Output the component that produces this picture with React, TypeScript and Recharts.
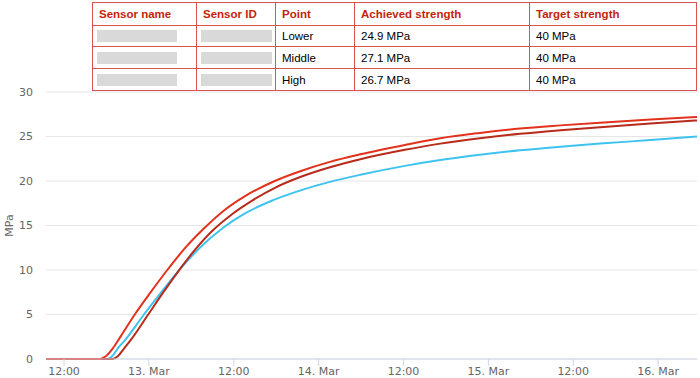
import React from "react";
import { LineChart, Line, XAxis, YAxis, CartesianGrid } from "recharts";

// Time in hours since 12 Mar 00:00
const middleHours = [9.45, 17.1, 17.9, 18.9, 19.9, 22.0, 24.2, 26.6, 29.1, 31.7, 34.8, 37.6, 41.8, 45.4, 49.6, 53.9, 60.2, 65.2, 70.8, 76.5, 82.2, 87.8, 94.9, 101.5];
const middleValues = [0, 0, 0.3, 1.2, 2.4, 5, 7.45, 10, 12.45, 14.6, 16.8, 18.3, 20.0, 21.1, 22.15, 23.0, 24.05, 24.8, 25.4, 25.9, 26.25, 26.55, 26.9, 27.2];

const highHours = [9.45, 18.9, 19.6, 20.5, 21.5, 23.9, 26.0, 28.1, 30.5, 32.9, 35.8, 38.6, 42.1, 45.4, 49.6, 53.9, 60.2, 65.2, 70.8, 76.5, 82.2, 87.8, 94.9, 101.5];
const highValues = [0, 0, 0.3, 1.2, 2.2, 5, 7.45, 9.8, 12.25, 14.35, 16.3, 17.8, 19.35, 20.45, 21.55, 22.45, 23.5, 24.2, 24.8, 25.3, 25.7, 26.05, 26.45, 26.8];

const lowerHours = [9.45, 18.1, 18.8, 19.6, 20.6, 23.3, 25.9, 28.4, 31.2, 34.5, 37.6, 41.1, 44.7, 49.6, 53.9, 60.2, 65.2, 70.8, 76.5, 82.2, 87.8, 94.9, 101.5];
const lowerValues = [0, 0, 0.3, 1.2, 2.1, 5, 7.65, 10.1, 12.5, 14.75, 16.35, 17.7, 18.75, 19.9, 20.7, 21.7, 22.35, 22.95, 23.45, 23.85, 24.2, 24.6, 25.0];

const xTicks = [12, 24, 36, 48, 60, 72, 84, 96];
const yTicks = [0, 5, 10, 15, 20, 25, 30];

const tableHeaders = ["Sensor name", "Sensor ID", "Point", "Achieved strength", "Target strength"];
const points = ["Lower", "Middle", "High"];
const achieved = ["24.9 MPa", "27.1 MPa", "26.7 MPa"];
const target = ["40 MPa", "40 MPa", "40 MPa"];

const colWidths = [105, 79, 79, 175, 167];
const rowHeights = [23, 21, 22, 22];

const toSeries = (hs: number[], vs: number[]) => hs.map((h, i) => ({ t: h, v: vs[i] }));

const fmtX = (h: number) => (h % 24 === 0 ? `${h / 24 + 12}. Mar` : "12:00");

const RED = "#d9534f";
const cellBase: React.CSSProperties = {
  borderRight: `1px solid ${RED}`,
  borderBottom: `1px solid ${RED}`,
  boxSizing: "border-box",
  padding: "0 6px",
  display: "flex",
  alignItems: "center",
  fontFamily: "'Liberation Sans', Arial, sans-serif",
  overflow: "hidden",
  whiteSpace: "nowrap",
};

const Placeholder = () => (
  <div style={{ width: "100%", height: 12, background: "#d9d9d9" }} />
);

function InfoTable() {
  return (
    <div
      style={{
        position: "absolute",
        left: 92,
        top: 2,
        width: colWidths.reduce((a, b) => a + b, 0),
        background: "#fff",
        borderTop: `1px solid ${RED}`,
        borderLeft: `1px solid ${RED}`,
        boxSizing: "border-box",
      }}
    >
      <div style={{ display: "flex", height: rowHeights[0] }}>
        {tableHeaders.map((h, i) => (
          <div
            key={h}
            style={{
              ...cellBase,
              width: colWidths[i] - (i === 0 ? 1 : 0),
              color: "#c41f0c",
              fontWeight: "bold",
              fontSize: 11.5,
            }}
          >
            {h}
          </div>
        ))}
      </div>
      {points.map((p, r) => (
        <div key={p} style={{ display: "flex", height: rowHeights[r + 1] }}>
          <div style={{ ...cellBase, width: colWidths[0] - 1, padding: "0 19px 0 4px" }}>
            <Placeholder />
          </div>
          <div style={{ ...cellBase, width: colWidths[1], padding: "0 3px 0 4px" }}>
            <Placeholder />
          </div>
          <div style={{ ...cellBase, width: colWidths[2], fontSize: 11.5, color: "#000" }}>{p}</div>
          <div style={{ ...cellBase, width: colWidths[3], fontSize: 11.5, color: "#000" }}>{achieved[r]}</div>
          <div style={{ ...cellBase, width: colWidths[4], fontSize: 11.5, color: "#000" }}>{target[r]}</div>
        </div>
      ))}
    </div>
  );
}

export default function App() {
  const tickStyle = { fill: "#666666", fontSize: 11, fontFamily: "'DejaVu Sans', sans-serif" };
  return (
    <div style={{ position: "absolute", left: 0, top: 0, width: 700, height: 378, background: "#fff" }}>
      <LineChart width={700} height={378} margin={{ top: 92, right: 3, bottom: 0, left: 0 }}>
        <CartesianGrid vertical={false} stroke="#e6e6e6" />
        <XAxis
          dataKey="t"
          type="number"
          domain={["dataMin", "dataMax"]}
          ticks={xTicks}
          tickFormatter={fmtX}
          height={19}
          tickSize={7}
          tickMargin={1}
          stroke="#ccd6eb"
          tick={tickStyle}
          allowDuplicatedCategory={false}
        />
        <YAxis
          type="number"
          domain={[0, 30]}
          ticks={yTicks}
          width={46}
          axisLine={false}
          tickLine={false}
          tickSize={0}
          tickMargin={13}
          tick={tickStyle}
          label={{
            value: "MPa",
            angle: -90,
            position: "insideLeft",
            offset: 9,
            textAnchor: "middle",
            fill: "#666666",
            fontSize: 11,
            fontFamily: "'DejaVu Sans', sans-serif",
          }}
        />
        <Line data={toSeries(lowerHours, lowerValues)} dataKey="v" type="monotone" stroke="#3ec3f0" strokeWidth={2} dot={false} isAnimationActive={false} />
        <Line data={toSeries(highHours, highValues)} dataKey="v" type="monotone" stroke="#b82a1a" strokeWidth={2} dot={false} isAnimationActive={false} />
        <Line data={toSeries(middleHours, middleValues)} dataKey="v" type="monotone" stroke="#e2311c" strokeWidth={2} dot={false} isAnimationActive={false} />
      </LineChart>
      <InfoTable />
    </div>
  );
}
